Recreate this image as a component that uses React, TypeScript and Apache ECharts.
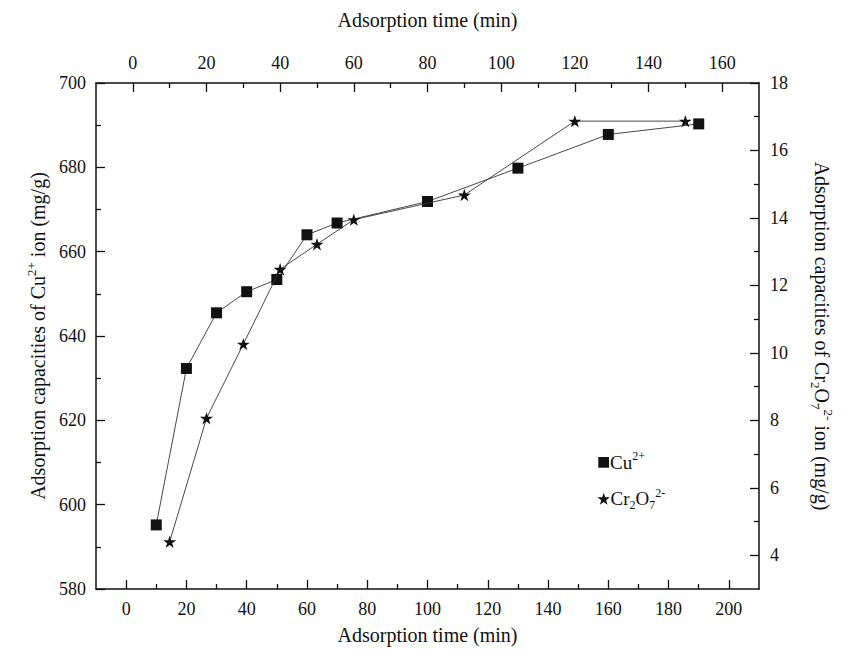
import { useEffect, useRef } from 'react';
import * as echarts from 'echarts';

// ---- data ----
const cuTime = [10, 20, 30, 40, 50, 60, 70, 100, 130, 160, 190];
const cuCapacity = [595.2, 632.3, 645.5, 650.5, 653.4, 664.0, 666.8, 671.9, 679.8, 687.8, 690.3];
const crTime = [10, 20, 30, 40, 50, 60, 90, 120, 150];
const crCapacity = [4.4, 8.06, 10.26, 12.48, 13.22, 13.95, 14.68, 16.87, 16.87];

// ---- tick labels ----
const bottomTicks = [0, 20, 40, 60, 80, 100, 120, 140, 160, 180, 200];
const bottomMinorTicks = [10, 30, 50, 70, 90, 110, 130, 150, 170, 190];
const topTicks = [0, 20, 40, 60, 80, 100, 120, 140, 160];
const topMinorTicks = [10, 30, 50, 70, 90, 110, 130, 150];
const rightTicks = [4, 6, 8, 10, 12, 14, 16, 18];
const rightMinorTicks = [5, 7, 9, 11, 13, 15, 17];

const STAR_D =
  'M12,0 L14.7,8.29 L23.41,8.29 L16.37,13.42 L19.05,21.71 L12,16.59 L4.95,21.71 L7.63,13.42 L0.59,8.29 L9.3,8.29 Z';

const FONT = 'Liberation Serif';
const INK = '#111';

const richStyles = (size: number) => ({
  sup: { fontSize: size, fontFamily: FONT, color: INK, verticalAlign: 'top', lineHeight: size },
  sub: { fontSize: size, fontFamily: FONT, color: INK, verticalAlign: 'bottom', lineHeight: size },
});

let registered = false;
function ensureShapes() {
  if (registered) return;
  registered = true;
  echarts.graphic.registerShape('legendStar', echarts.graphic.extendPath(STAR_D, {}) as any);
}

const axisLineStyle = { color: INK, width: 1.5 };
const tickLine = { color: INK, width: 1.3 };
const labelStyle = { fontFamily: FONT, fontSize: 18, color: INK };
const nameStyle = {
  fontFamily: FONT,
  fontSize: 20,
  color: INK,
  lineHeight: 26,
  rich: richStyles(13),
};

function minorAxis(position: string, min: number, max: number, values: number[]) {
  return {
    type: 'value',
    position,
    min,
    max,
    axisLine: { show: false, onZero: false },
    axisTick: { show: true, inside: true, length: 5, customValues: values, lineStyle: tickLine },
    axisLabel: { show: false },
    splitLine: { show: false },
  };
}

export default function App() {
  const ref = useRef<HTMLDivElement>(null);

  useEffect(() => {
    ensureShapes();
    const chart = echarts.init(ref.current!, null, { renderer: 'svg' });
    const option: any = {
      animation: false,
      backgroundColor: '#fff',
      textStyle: { fontFamily: FONT },
      grid: { left: 96, top: 83, width: 663, height: 506, outerBoundsMode: 'none', containLabel: false },
      xAxis: [
        {
          type: 'value',
          position: 'bottom',
          min: -10,
          max: 210,
          axisLine: { onZero: false, lineStyle: axisLineStyle },
          axisTick: { inside: true, length: 9, customValues: bottomTicks, lineStyle: tickLine },
          axisLabel: { ...labelStyle, margin: 11, customValues: bottomTicks },
          splitLine: { show: false },
          name: 'Adsorption time (min)',
          nameLocation: 'middle',
          nameGap: 34,
          nameMoveOverlap: false,
          nameTextStyle: { ...nameStyle, lineHeight: 24 },
        },
        {
          type: 'value',
          position: 'top',
          min: -10,
          max: 170,
          axisLine: { onZero: false, lineStyle: axisLineStyle },
          axisTick: { inside: true, length: 9, customValues: topTicks, lineStyle: tickLine },
          axisLabel: { ...labelStyle, margin: 11, customValues: topTicks },
          splitLine: { show: false },
          name: 'Adsorption time (min)',
          nameLocation: 'middle',
          nameGap: 51,
          nameMoveOverlap: false,
          nameTextStyle: { ...nameStyle, lineHeight: 24 },
        },
        minorAxis('bottom', -10, 210, bottomMinorTicks),
        minorAxis('top', -10, 170, topMinorTicks),
      ],
      yAxis: [
        {
          type: 'value',
          position: 'left',
          min: 580,
          max: 700,
          interval: 20,
          axisLine: { onZero: false, lineStyle: axisLineStyle },
          axisTick: { inside: true, length: 9, lineStyle: tickLine },
          minorTick: { show: true, splitNumber: 2, length: 5, lineStyle: tickLine },
          axisLabel: { ...labelStyle, margin: 10 },
          splitLine: { show: false },
          name: 'Adsorption capacities of Cu{sup|2+} ion (mg/g)',
          nameLocation: 'middle',
          nameGap: 45,
          nameMoveOverlap: false,
          nameTextStyle: nameStyle,
        },
        {
          type: 'value',
          position: 'right',
          min: 3,
          max: 18,
          axisLine: { onZero: false, lineStyle: axisLineStyle },
          axisTick: { inside: true, length: 9, customValues: rightTicks, lineStyle: tickLine },
          axisLabel: { ...labelStyle, margin: 11, customValues: rightTicks },
          splitLine: { show: false },
          name: 'Adsorption capacities of Cr{sub|2}O{sub|7}{sup|2-} ion (mg/g)',
          nameLocation: 'middle',
          nameRotate: -90,
          nameGap: 50,
          nameMoveOverlap: false,
          nameTextStyle: nameStyle,
        },
        minorAxis('right', 3, 18, rightMinorTicks),
      ],
      series: [
        {
          name: 'Cu2+',
          type: 'line',
          xAxisIndex: 0,
          yAxisIndex: 0,
          data: cuTime.map((t, i) => [t, cuCapacity[i]]),
          symbol: 'rect',
          symbolSize: 11,
          itemStyle: { color: INK },
          lineStyle: { color: '#333', width: 0.9 },
          z: 3,
        },
        {
          name: 'Cr2O72-',
          type: 'line',
          xAxisIndex: 1,
          yAxisIndex: 1,
          data: crTime.map((t, i) => [t, crCapacity[i]]),
          symbol: 'path://' + STAR_D,
          symbolKeepAspect: true,
          symbolSize: 13,
          itemStyle: { color: INK },
          lineStyle: { color: '#333', width: 0.9 },
          z: 4,
        },
      ],
      graphic: [
        {
          type: 'rect',
          shape: { x: 598.3, y: 457, width: 10.7, height: 10.7 },
          style: { fill: INK },
        },
        {
          type: 'text',
          x: 610,
          y: 462.4,
          style: {
            text: 'Cu{sup|2+}',
            fontFamily: FONT,
            fontSize: 19,
            lineHeight: 24,
            fill: INK,
            verticalAlign: 'middle',
            rich: { sup: { fontSize: 12, fontFamily: FONT, fill: INK, verticalAlign: 'top', lineHeight: 12 } },
          },
        },
        {
          type: 'legendStar',
          x: 597.1,
          y: 492.8,
          scaleX: 0.55,
          scaleY: 0.55,
          style: { fill: INK },
        },
        {
          type: 'text',
          x: 610.5,
          y: 498.7,
          style: {
            text: 'Cr{sub|2}O{sub|7}{sup|2-}',
            fontFamily: FONT,
            fontSize: 19,
            lineHeight: 24,
            fill: INK,
            verticalAlign: 'middle',
            rich: {
              sup: { fontSize: 12, fontFamily: FONT, fill: INK, verticalAlign: 'top', lineHeight: 12 },
              sub: { fontSize: 12, fontFamily: FONT, fill: INK, verticalAlign: 'bottom', lineHeight: 12 },
            },
          },
        },
      ],
    };
    chart.setOption(option);
    return () => chart.dispose();
  }, []);

  return (
    <div
      ref={ref}
      style={{ position: 'fixed', left: 0, top: 0, width: 849, height: 649, background: '#fff' }}
    />
  );
}
